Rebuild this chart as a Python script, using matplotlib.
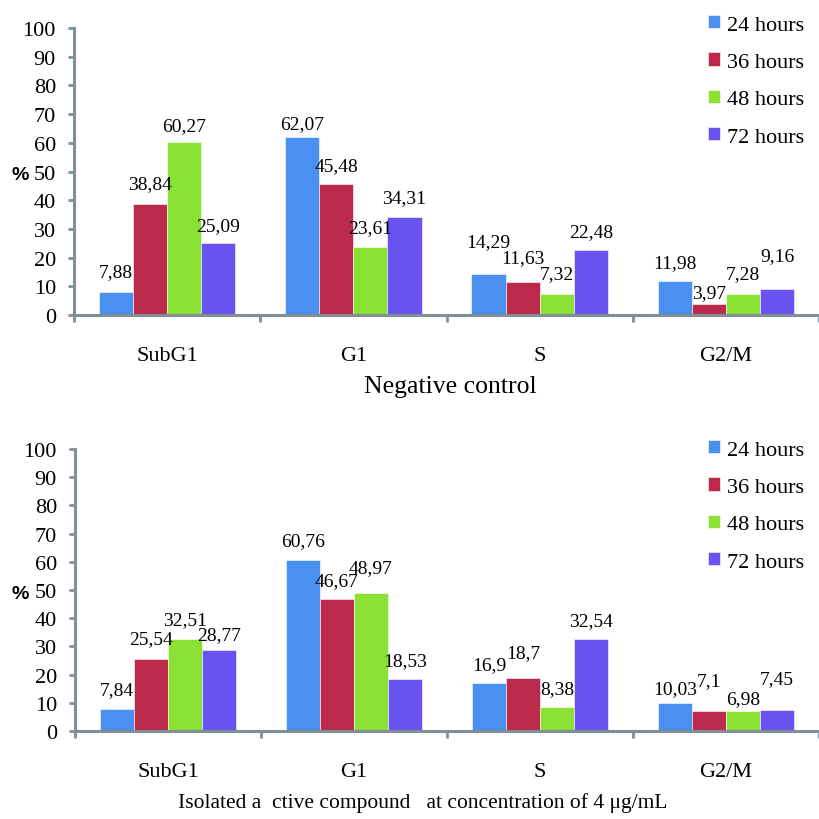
import numpy as np
import matplotlib
matplotlib.use("Agg")
import matplotlib.pyplot as plt

plt.rcParams['font.family'] = ['Liberation Serif', 'DejaVu Serif']

phases = ["SubG1", "G1", "S", "G2/M"]
series = ["24 hours", "36 hours", "48 hours", "72 hours"]
colors = ["#4A90F0", "#BC2A4B", "#8BE034", "#6853F0"]

# negative control
ctrl_24 = [7.88, 62.07, 14.29, 11.98]
ctrl_36 = [38.84, 45.48, 11.63, 3.97]
ctrl_48 = [60.27, 23.61, 7.32, 7.28]
ctrl_72 = [25.09, 34.31, 22.48, 9.16]

# isolated active compound
cmp_24 = [7.84, 60.76, 16.9, 10.03]
cmp_36 = [25.54, 46.67, 18.7, 7.1]
cmp_48 = [32.51, 48.97, 8.38, 6.98]
cmp_72 = [28.77, 18.53, 32.54, 7.45]

yticks = [0, 10, 20, 30, 40, 50, 60, 70, 80, 90, 100]
axcol = "#7F8F98"

# gap (px) between bar top and its label, like the hand-moved labels
ctrl_gap = [[16, 9, 28, 14], [15, 14, 20, 7], [12, 15, 16, 16], [13, 14, 14, 29]]
cmp_gap = [[15, 15, 14, 10], [16, 14, 21, 26], [15, 21, 14, 8], [11, 14, 14, 27]]

fig = plt.figure(figsize=(8.19, 8.20), dpi=100)


def panel(rect, data, gaps, xlabel, legend_top, pct_y):
    ax = fig.add_axes(rect)
    x = np.arange(len(phases))
    w = 0.183
    for i, vals in enumerate(data):
        pos = x + (i - 1.5) * w
        bars = ax.bar(pos, vals, w, color=colors[i], label=series[i],
                      edgecolor="white", linewidth=0.4)
        for j, (b, v) in enumerate(zip(bars, vals)):
            ax.annotate(str(v).replace(".", ","),
                        (b.get_x() + b.get_width() / 2, v),
                        xytext=(0, gaps[i][j] * 0.72), textcoords="offset points",
                        ha="center", va="baseline", fontsize=14)
    ax.set_xlim(-0.5, 3.49)
    ax.set_ylim(0, 100)
    ax.set_yticks(yticks)
    ax.tick_params(axis="y", labelsize=16, length=4, width=2, color=axcol,
                   pad=9)
    ax.set_xticks(x)
    ax.set_xticklabels(phases)
    ax.tick_params(axis="x", which="major", length=0, labelsize=16, pad=22)
    ax.set_xticks([-0.5, 0.5, 1.5, 2.5, 3.5], minor=True)
    ax.tick_params(axis="x", which="minor", length=5, width=2, color=axcol)
    for s in ["top", "right"]:
        ax.spines[s].set_visible(False)
    for s in ["left", "bottom"]:
        ax.spines[s].set_color(axcol)
        ax.spines[s].set_linewidth(2.2)
    ax.set_xlabel(xlabel, fontsize=18.5)
    ax.xaxis.label.set_va("center")
    ax.legend(loc="upper left", bbox_to_anchor=(708 / 819, legend_top),
              bbox_transform=fig.transFigure, frameon=False, fontsize=16,
              handlelength=0.55, handleheight=0.55, handletextpad=0.3,
              labelspacing=0.8, borderpad=0, borderaxespad=0)
    fig.text(20 / 819, pct_y, "%", fontsize=14, fontweight="bold",
             family=["Liberation Sans", "DejaVu Sans"], ha="center",
             va="center")
    return ax


ax1 = panel([74 / 819, 1 - 316 / 820, 1 - 74 / 819, 287 / 820],
            [ctrl_24, ctrl_36, ctrl_48, ctrl_72], ctrl_gap, "Negative control",
            1 - 16 / 820, 1 - 175 / 820)
ax1.xaxis.set_label_coords((450 - 74) / 745, -(387 - 316) / 287)
ax2 = panel([75 / 819, 1 - 732 / 820, 1 - 75 / 819, 282 / 820],
            [cmp_24, cmp_36, cmp_48, cmp_72], cmp_gap,
            "Isolated a  ctive compound   at concentration of 4 \u03bcg/mL",
            1 - 441 / 820, 1 - 595 / 820)
ax2.xaxis.label.set_fontsize(15.5)
ax2.xaxis.set_label_coords((423 - 75) / 744, -(803 - 732) / 282)

fig.savefig("out.png", dpi=100)
